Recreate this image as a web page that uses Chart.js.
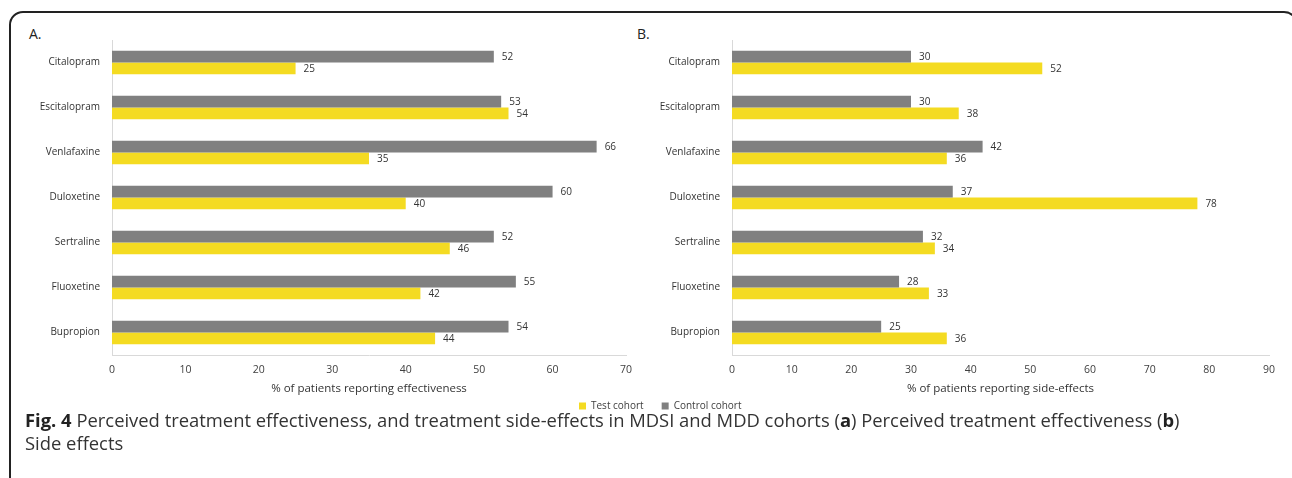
<!DOCTYPE html>
<html>
<head>
<meta charset="utf-8">
<script src="https://cdn.jsdelivr.net/npm/chart.js@4/dist/chart.umd.min.js"></script>
<style>
  body { margin: 0; width: 1292px; height: 478px; background: #fff; overflow: hidden; position: relative; font-family: "Open Sans", sans-serif; }
  .frame { position: absolute; left: 9px; top: 11px; width: 1289px; height: 500px; box-sizing: border-box; border: 2px solid #222; border-radius: 14px; }
  .panel-label { position: absolute; top: 24px; font-size: 14px; color: #222; }
  .wrap { position: absolute; top: 30px; }
  .caption { position: absolute; left: 25px; top: 408px; font-size: 18.4px; line-height: 23px; color: #333; white-space: nowrap; }
  .caption b { color: #222; }
</style>
</head>
<body>
<div class="frame"></div>
<div class="panel-label" style="left:29px">A.</div>
<div class="panel-label" style="left:637px">B.</div>
<div class="wrap" style="left:20px;width:628px;height:380px"><canvas id="chartA"></canvas></div>
<div class="wrap" style="left:561px;width:731px;height:391px"><canvas id="chartB"></canvas></div>
<div class="caption"><b>Fig. 4</b> Perceived treatment effectiveness, and treatment side-effects in MDSI and MDD cohorts (<b>a</b>) Perceived treatment effectiveness (<b>b</b>)<br>Side effects</div>

<script>
// data
const drugs = ["Citalopram", "Escitalopram", "Venlafaxine", "Duloxetine", "Sertraline", "Fluoxetine", "Bupropion"];

const effControl = [52, 53, 66, 60, 52, 55, 54];
const effTest = [25, 54, 35, 40, 46, 42, 44];

const sideControl = [30, 30, 42, 37, 32, 28, 25];
const sideTest = [52, 38, 36, 78, 34, 33, 36];

const effTicks = [0, 10, 20, 30, 40, 50, 60, 70];
const sideTicks = [0, 10, 20, 30, 40, 50, 60, 70, 80, 90];

const GREY = "#808080";
const YELLOW = "#F4DB22";
const AXIS = "#d9d9d9";
const FONT = "'Open Sans', sans-serif";

// number printed at the end of each bar
const valueLabels = {
  id: "valueLabels",
  afterDatasetsDraw: function (chart) {
    const ctx = chart.ctx;
    ctx.save();
    ctx.font = "10px " + FONT;
    ctx.fillStyle = "#333";
    ctx.textBaseline = "middle";
    ctx.textAlign = "left";
    chart.data.datasets.forEach(function (ds, i) {
      chart.getDatasetMeta(i).data.forEach(function (bar, j) {
        ctx.fillText(ds.data[j], bar.x + 8, bar.y + 1);
      });
    });
    ctx.restore();
  },
};

function makeDatasets(control, test) {
  // control first so the grey bar sits on top of each pair
  return [
    { label: "Control cohort", data: control, backgroundColor: GREY, borderWidth: 0, categoryPercentage: 0.52, barPercentage: 1 },
    { label: "Test cohort", data: test, backgroundColor: YELLOW, borderWidth: 0, categoryPercentage: 0.52, barPercentage: 1 },
  ];
}

// yWidth / xHeight fix the axis boxes so both panels share the same plot band (y 40..355)
function makeOptions(tickList, title, yWidth, xHeight, titleBottom, padRight, padBottom, showLegend) {
  return {
    responsive: true,
    maintainAspectRatio: false,
    animation: false,
    indexAxis: "y",
    layout: { padding: { top: 10, right: padRight, bottom: padBottom, left: 0 } },
    plugins: {
      tooltip: { enabled: false },
      legend: {
        display: showLegend,
        position: "bottom",
        align: "start",
        reverse: true,
        labels: { boxWidth: 7, boxHeight: 7, padding: 18, color: "#404040", font: { family: FONT, size: 10 } },
      },
    },
    scales: {
      x: {
        min: tickList[0],
        max: tickList[tickList.length - 1],
        afterBuildTicks: function (scale) {
          scale.ticks = tickList.map(function (v) { return { value: v }; });
        },
        afterFit: function (scale) { scale.height = xHeight; },
        grid: { display: false, drawTicks: false },
        border: { display: true, color: AXIS, width: 1 },
        ticks: { padding: 9, color: "#404040", font: { family: FONT, size: 10.5 } },
        title: {
          display: true,
          text: title,
          color: "#333",
          font: { family: FONT, size: 11.5 },
          padding: { top: 0, bottom: titleBottom },
        },
      },
      y: {
        afterFit: function (scale) {
          scale.width = yWidth;
          scale.paddingTop = 0;
          scale.paddingBottom = 0;
        },
        grid: { display: false, drawTicks: false },
        border: { display: true, color: AXIS, width: 1 },
        ticks: { padding: 12, color: "#333", font: { family: FONT, size: 10 } },
      },
    },
  };
}

new Chart(document.getElementById("chartA"), {
  type: "bar",
  data: { labels: drugs, datasets: makeDatasets(effControl, effTest) },
  options: makeOptions(effTicks, "% of patients reporting effectiveness", 92, 45, 4, 22, 10, false),
  plugins: [valueLabels],
});

new Chart(document.getElementById("chartB"), {
  type: "bar",
  data: { labels: drugs, datasets: makeDatasets(sideControl, sideTest) },
  options: makeOptions(sideTicks, "% of patients reporting side-effects", 171, 28, -13, 23, 0, true),
  plugins: [valueLabels],
});
</script>
</body>
</html>
